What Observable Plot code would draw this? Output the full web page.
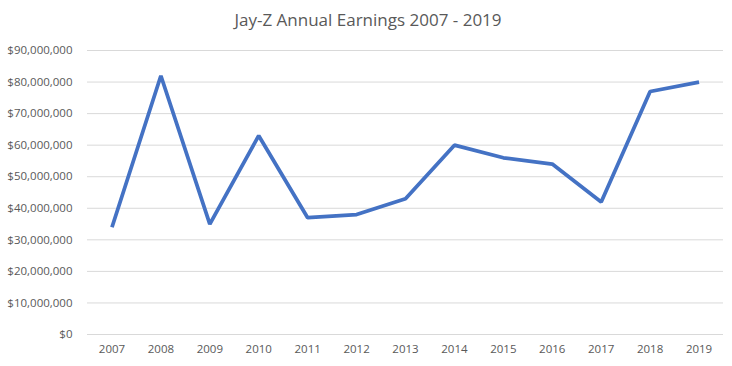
<!DOCTYPE html>
<html>
<head>
<meta charset="utf-8">
<script src="https://cdn.jsdelivr.net/npm/d3@7"></script>
<script src="https://cdn.jsdelivr.net/npm/@observablehq/plot@0.6"></script>
<style>
  html, body { margin: 0; padding: 0; background: #fff; }
  #wrap { width: 732px; height: 366px; position: relative; font-family: "Open Sans", "Liberation Sans", sans-serif; }
  #title { height: 40px; line-height: 40px; text-align: center; font-size: 17px; color: #595959; padding-left: 4px; }
  svg { display: block; }
</style>
</head>
<body>
<div id="wrap">
  <div id="title">Jay-Z Annual Earnings 2007 - 2019</div>
  <div id="chart"></div>
</div>
<script>
const years = ["2007","2008","2009","2010","2011","2012","2013","2014","2015","2016","2017","2018","2019"];
const earnings = [34000000, 82000000, 35000000, 63000000, 37000000, 38000000, 43000000, 60000000, 56000000, 54000000, 42000000, 77000000, 80000000];
const yTicks = [0, 10000000, 20000000, 30000000, 40000000, 50000000, 60000000, 70000000, 80000000, 90000000];

const data = years.map((y, i) => ({year: y, value: earnings[i]}));

const chart = Plot.plot({
  width: 732,
  height: 326,
  marginLeft: 87,
  marginRight: 9,
  marginTop: 10,
  marginBottom: 32,
  style: {fontFamily: "'Open Sans', 'Liberation Sans', sans-serif", fontSize: "11.5px", color: "#595959", background: "#fff"},
  x: {type: "point", domain: years, padding: 0.5, round: false, label: null},
  y: {domain: [0, 90000000], label: null},
  marks: [
    Plot.gridY(yTicks, {stroke: "#d9d9d9", strokeOpacity: 1, strokeWidth: 1}),
    Plot.axisY(yTicks, {tickSize: 0, tickPadding: 15, tickFormat: d3.format("$,"), label: null, fill: "#595959"}),
    Plot.axisX({tickSize: 0, tickPadding: 10, label: null, fill: "#595959"}),
    Plot.line(data, {x: "year", y: "value", stroke: "#4472C4", strokeWidth: 3.75, strokeLinejoin: "miter", strokeLinecap: "butt"})
  ]
});
document.getElementById("chart").appendChild(chart);
</script>
</body>
</html>
